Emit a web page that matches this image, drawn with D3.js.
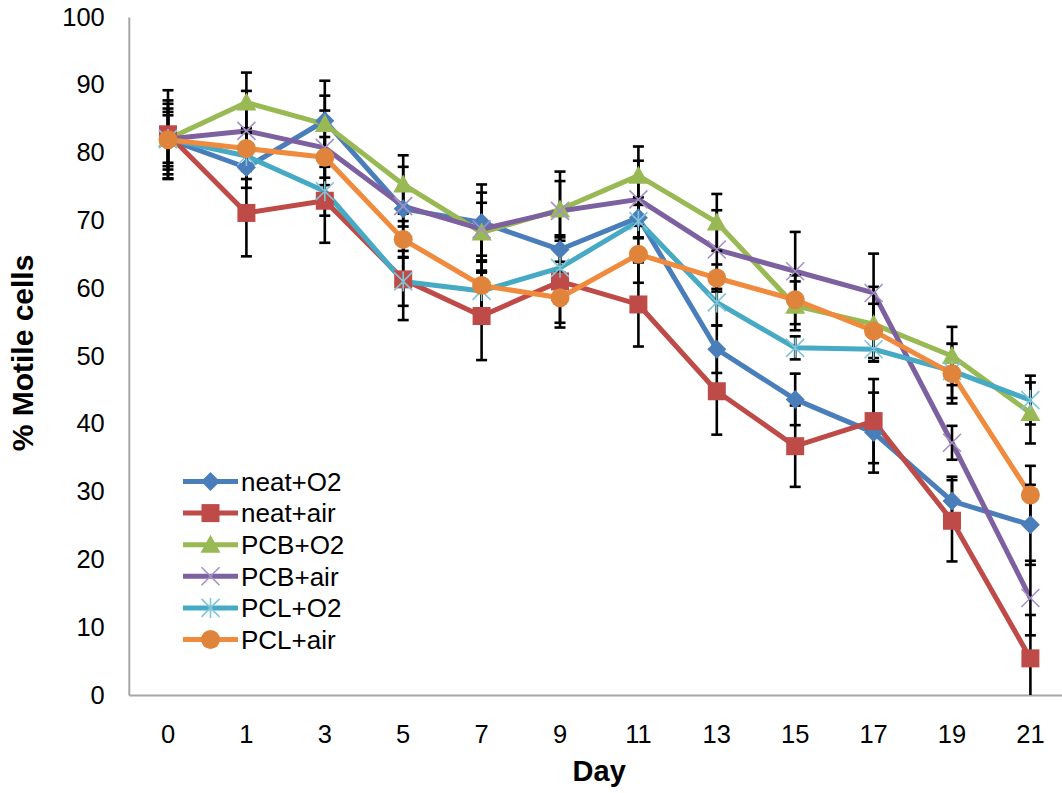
<!DOCTYPE html>
<html>
<head>
<meta charset="utf-8">
<script src="https://cdn.jsdelivr.net/npm/d3@7/dist/d3.min.js"></script>
<style>
  html, body { margin: 0; padding: 0; background: #fff; overflow: hidden; }
  text { font-family: "Liberation Sans", Arial, sans-serif; fill: #000; }
</style>
</head>
<body>
<svg id="chart" width="1062" height="793"></svg>
<script>
const days = ["0", "1", "3", "5", "7", "9", "11", "13", "15", "17", "19", "21"];
const yTicks = [0, 10, 20, 30, 40, 50, 60, 70, 80, 90, 100];
const seriesNames = ["neat+O2", "neat+air", "PCB+O2", "PCB+air", "PCL+O2", "PCL+air"];

const neatO2   = [82.0, 77.8, 84.7, 71.7, 69.7, 65.7, 70.4, 51.0, 43.6, 38.7, 28.6, 25.1];
const neatAir  = [82.7, 71.1, 72.9, 61.3, 55.9, 61.0, 57.6, 44.8, 36.7, 40.4, 25.7, 5.4];
const pcbO2    = [82.0, 87.4, 84.2, 75.3, 68.2, 71.6, 76.6, 69.7, 57.4, 54.7, 50.0, 41.6];
const pcbAir   = [82.0, 83.2, 80.7, 72.1, 68.7, 71.4, 73.1, 65.7, 62.5, 59.3, 37.2, 14.3];
const pclO2    = [82.0, 79.5, 74.3, 61.0, 59.6, 63.0, 69.9, 57.9, 51.2, 51.0, 47.8, 43.5];
const pclAir   = [81.9, 80.6, 79.3, 67.2, 60.4, 58.6, 65.0, 61.5, 58.3, 53.7, 47.4, 29.5];

const errNeatO2  = [5.2, 3.0, 5.9, 6.2, 5.6, 1.8, 3.0, 3.5, 3.8, 5.9, 3.6, 5.9];
const errNeatAir = [6.5, 6.4, 6.2, 6.0, 6.5, 6.8, 6.2, 6.4, 6.0, 6.2, 6.0, 6.4];
const errPcbO2   = [4.0, 4.4, 4.2, 4.3, 5.9, 5.6, 4.3, 4.2, 3.6, 5.5, 4.3, 4.5];
const errPcbAir  = [3.5, 5.9, 5.5, 3.0, 3.9, 4.4, 5.7, 5.8, 5.8, 5.8, 2.5, 5.5];
const errPclO2   = [4.5, 3.4, 3.6, 3.6, 3.0, 3.0, 2.4, 3.4, 1.7, 1.8, 4.0, 3.6];
const errPclAir  = [5.8, 3.0, 3.0, 2.7, 3.5, 3.7, 4.2, 2.0, 3.6, 4.0, 4.4, 4.3];

const seriesValues = [neatO2, neatAir, pcbO2, pcbAir, pclO2, pclAir];
const seriesErrors = [errNeatO2, errNeatAir, errPcbO2, errPcbAir, errPclO2, errPclAir];
const colors = ["#4A7EBB", "#BE4B48", "#98B954", "#7D60A0", "#46AAC5", "#F08A3C"];
const markerColors = ["#4A7EBB", "#BE4B48", "#98B954", "#A592C4", "#7FC6DA", "#E0843C"];
const markerTypes = ["diamond", "square", "triangle", "x", "star", "circle"];

const svg = d3.select("#chart");
const pLeft = 128.8, pRight = 1069.6, pTop = 17, pBottom = 695;

const x = d3.scaleBand().domain(days).range([pLeft, pRight]).paddingInner(0).paddingOuter(0);
const cx = d => x(d) + x.bandwidth() / 2;
const y = d3.scaleLinear().domain([0, 100]).range([pBottom, pTop]);

// axes
const yAxis = d3.axisLeft(y).tickValues(yTicks).tickSize(0).tickPadding(24);
const gy = svg.append("g").attr("transform", `translate(${pLeft},0)`).call(yAxis);
gy.select(".domain").attr("stroke", "#A6A6A6").attr("stroke-width", 2);
gy.selectAll("text").attr("font-size", 25.5).attr("font-family", "Liberation Sans, Arial, sans-serif").attr("fill", "#000");

const xAxis = d3.axisBottom(x).tickSize(0).tickPadding(30);
const gx = svg.append("g").attr("transform", `translate(0,${pBottom})`).call(xAxis);
gx.select(".domain").attr("stroke", "#A6A6A6").attr("stroke-width", 2);
gx.selectAll("text").attr("font-size", 25.5).attr("font-family", "Liberation Sans, Arial, sans-serif").attr("fill", "#000");

// axis titles
svg.append("text").attr("x", (pLeft + pRight) / 2).attr("y", 781)
  .attr("text-anchor", "middle").attr("font-size", 29).attr("font-weight", "bold").text("Day");
svg.append("text").attr("transform", `translate(33,${(pTop + pBottom) / 2 - 3}) rotate(-90)`)
  .attr("text-anchor", "middle").attr("font-size", 30).attr("font-weight", "bold").text("% Motile cells");

const plot = svg.append("g");

function drawMarker(g, type, px, py, color) {
  if (type === "diamond") {
    g.append("path").attr("d", `M${px},${py - 9.5}L${px + 9.5},${py}L${px},${py + 9.5}L${px - 9.5},${py}Z`).attr("fill", color);
  } else if (type === "square") {
    g.append("rect").attr("x", px - 9).attr("y", py - 9).attr("width", 18).attr("height", 18).attr("fill", color);
  } else if (type === "triangle") {
    g.append("path").attr("d", `M${px},${py - 10}L${px + 10},${py + 8}L${px - 10},${py + 8}Z`).attr("fill", color);
  } else if (type === "circle") {
    g.append("circle").attr("cx", px).attr("cy", py).attr("r", 9.5).attr("fill", color);
  } else if (type === "x") {
    g.append("path").attr("d", `M${px - 9},${py - 9}L${px + 9},${py + 9}M${px + 9},${py - 9}L${px - 9},${py + 9}`)
      .attr("stroke", color).attr("stroke-width", 1.6).attr("fill", "none");
  } else if (type === "star") {
    g.append("path").attr("d", `M${px - 9},${py - 9}L${px + 9},${py + 9}M${px + 9},${py - 9}L${px - 9},${py + 9}M${px},${py - 10}L${px},${py + 10}`)
      .attr("stroke", color).attr("stroke-width", 1.6).attr("fill", "none");
  }
}

// lines
const line = d3.line().x((d, i) => cx(days[i])).y(d => y(d));
seriesValues.forEach((vals, s) => {
  plot.append("path").datum(vals).attr("d", line)
    .attr("fill", "none").attr("stroke", colors[s]).attr("stroke-width", 5).attr("stroke-linejoin", "round");
});

// error bars
const errG = plot.append("g").attr("stroke", "#000").attr("stroke-width", 2.6);
seriesValues.forEach((vals, s) => {
  vals.forEach((v, i) => {
    const e = seriesErrors[s][i];
    const px = cx(days[i]);
    const hi = y(v + e), lo = y(Math.max(0, v - e));
    errG.append("line").attr("x1", px).attr("x2", px).attr("y1", hi).attr("y2", lo);
    errG.append("line").attr("x1", px - 5.5).attr("x2", px + 5.5).attr("y1", hi).attr("y2", hi);
    if (v - e >= 0) errG.append("line").attr("x1", px - 5.5).attr("x2", px + 5.5).attr("y1", lo).attr("y2", lo);
  });
});

// markers
seriesValues.forEach((vals, s) => {
  const g = plot.append("g");
  vals.forEach((v, i) => drawMarker(g, markerTypes[s], cx(days[i]), y(v), markerColors[s]));
});

// legend
const lg = svg.append("g");
seriesNames.forEach((name, s) => {
  const ly = 481.5 + s * 31.6;
  lg.append("line").attr("x1", 183).attr("x2", 238).attr("y1", ly).attr("y2", ly)
    .attr("stroke", colors[s]).attr("stroke-width", 5);
  drawMarker(lg, markerTypes[s], 210.5, ly, markerColors[s]);
  lg.append("text").attr("x", 241).attr("y", ly).attr("dy", "0.36em").attr("font-size", 26).text(name);
});
</script>
</body>
</html>
